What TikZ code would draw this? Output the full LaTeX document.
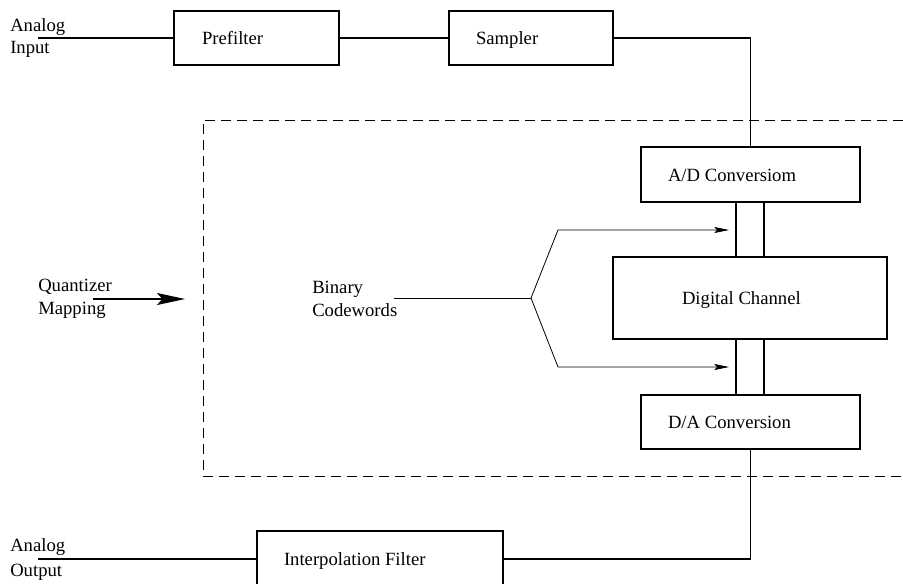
\documentclass[tikz,border=0pt]{standalone}
\usepackage{fontspec}
\setmainfont{Liberation Serif}
\usetikzlibrary{arrows.meta,calc,positioning}
\tikzset{
  blk/.style={draw, line width=0.9pt, inner ysep=0pt, align=flush left, text height=11pt, text depth=1pt, font=\fontsize{14}{17}\selectfont},
  lbl/.style={align=flush left, inner sep=0pt, anchor=west, font=\fontsize{14}{17}\selectfont},
  wire/.style={line width=0.9pt},
  thin arrow/.style={line width=0.6pt, -{Stealth[length=11pt, width=4.5pt, inset=2pt]}},
  big arrow/.style={line width=1.2pt, -{Stealth[length=21pt, width=9pt, inset=4pt]}},
  every picture/.style={line cap=butt, line join=miter}
}

\begin{document}
\begin{tikzpicture}[x=0.75pt, y=-0.75pt]
  \clip (0,0) rectangle (903,583);
  \fill[white] (0,0) rectangle (903,583);

  % dashed quantizer region, open on the right
  \draw[line width=0.7pt, dash pattern=on 7.5pt off 4.5pt] (903,120) -- (203,120) -- (203,476) -- (903,476);

  \node[blk, text width=81.75pt, inner xsep=21pt, minimum height=40.5pt] (pre) at (256.5,38) {Prefilter};
  \node[blk, text width=82.5pt, inner xsep=20.25pt, minimum height=40.5pt] (smp) at (531,38) {Sampler};
  \node[blk, text width=123.75pt, inner xsep=20.25pt, minimum height=41.25pt] (ad) at (750.5,174.5) {A/D Conversiom};
  \node[blk, text width=102pt, inner xsep=51.75pt, minimum height=61.5pt] (dc) at (750,298) {Digital Channel};
  \node[blk, text width=123.75pt, inner xsep=20.25pt, minimum height=40.5pt] (da) at (750.5,422) {D/A Conversion};
  \node[blk, text width=144pt, inner xsep=20.25pt, minimum height=42pt] (ip) at (380,559) {Interpolation Filter};

  \node[lbl, font=\fontsize{14}{16.5}\selectfont] (ain) at (10,38) {Analog\\Input};
  \node[lbl, font=\fontsize{14}{18.75}\selectfont] (aout) at (10,559) {Analog\\Output};
  \node[lbl] (qm) at (38,299) {Quantizer\\Mapping};
  \node[lbl] (bc) at (312,299) {Binary\\Codewords};

  \coordinate (in) at (38,38);
  \coordinate (out) at (38,559);
  \coordinate (qs) at (93,299);
  \coordinate (qt) at (185,299);
  \coordinate (bs) at (394,298);
  \coordinate (fork) at (531,298);
  \coordinate (up) at (558,230);
  \coordinate (upt) at (729,230);
  \coordinate (lo) at (558,367);
  \coordinate (lot) at (729,367);
  \coordinate (busl) at (736,0);
  \coordinate (busr) at (764,0);

  \draw[wire] (in) -- (pre.west);
  \draw[wire] (pre) -- (smp);
  \draw[wire] (smp.east) -| (ad.north);
  \draw[wire] (ad.south -| busl) -- (dc.north -| busl);
  \draw[wire] (ad.south -| busr) -- (dc.north -| busr);
  \draw[wire] (dc.south -| busl) -- (da.north -| busl);
  \draw[wire] (dc.south -| busr) -- (da.north -| busr);
  \draw[wire] (da.south) |- (ip.east);
  \draw[wire] (out) -- (out -| ip.west);

  \draw[big arrow] (qs) -- (qt);
  \draw[line width=0.6pt] (bs) -- (fork);
  \draw[thin arrow] (fork) -- (up) -- (upt);
  \draw[thin arrow] (fork) -- (lo) -- (lot);
\end{tikzpicture}
\end{document}
